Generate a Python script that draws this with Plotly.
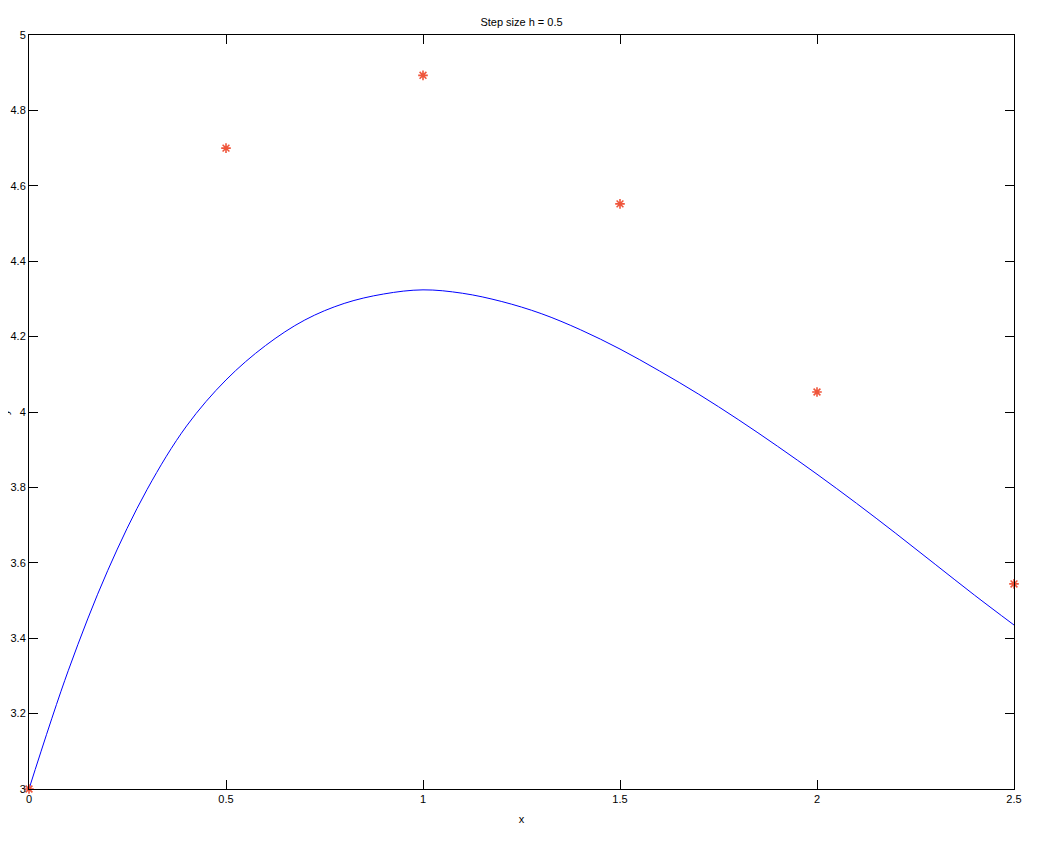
import plotly.graph_objects as go

# Euler approximation points (red asterisks)
euler_x = [0, 0.5, 1.0, 1.5, 2.0, 2.5]
euler_y = [3.0, 4.700, 4.893, 4.552, 4.053, 3.544]

# Exact solution curve (blue)
curve_x = [0.0, 0.1, 0.2, 0.3, 0.4, 0.5, 0.6, 0.7, 0.8, 0.9, 1.0, 1.1, 1.2,
           1.3, 1.4, 1.5, 1.6, 1.7, 1.8, 1.9, 2.0, 2.1, 2.2, 2.3, 2.4, 2.5]
curve_y = [3.000, 3.315, 3.580, 3.795, 3.963, 4.085, 4.176, 4.244, 4.288, 4.313,
           4.324, 4.315, 4.293, 4.261, 4.218, 4.167, 4.109, 4.047, 3.980, 3.909,
           3.835, 3.758, 3.678, 3.596, 3.514, 3.435]

x_ticks = [0, 0.5, 1, 1.5, 2, 2.5]
x_tick_text = ["0", "0.5", "1", "1.5", "2", "2.5"]
y_ticks = [3, 3.2, 3.4, 3.6, 3.8, 4, 4.2, 4.4, 4.6, 4.8, 5]
y_tick_text = ["3", "3.2", "3.4", "3.6", "3.8", "4", "4.2", "4.4", "4.6", "4.8", "5"]

font = dict(family="Liberation Sans, Arial, sans-serif", size=11, color="black")

fig = go.Figure()
fig.add_trace(go.Scatter(x=curve_x, y=curve_y, mode="lines", line_shape="spline",
                         line=dict(color="rgb(0,0,255)", width=1, smoothing=1),
                         showlegend=False))
fig.add_trace(go.Scatter(x=euler_x, y=euler_y, mode="markers", showlegend=False,
                         marker=dict(symbol="asterisk-open", size=8,
                                     line=dict(color="rgb(255,0,0)", width=1.6)),
                         cliponaxis=False))

axis_common = dict(showgrid=False, zeroline=False, showline=True, linecolor="black",
                   linewidth=1, mirror="allticks", ticks="inside", ticklen=9,
                   tickcolor="black", tickwidth=1, tickfont=font, automargin=False)

# page body adds 8px offset; margins compensate so the plot box lands at 29..1014 x 35..789
fig.update_layout(
    width=1050, height=845,
    paper_bgcolor="white", plot_bgcolor="white",
    margin=dict(l=21, r=44, t=27, b=64),
    font=font,
    title=dict(text="Step size h = 0.5", x=513.5 / 1050, xanchor="center",
               y=1 - 14 / 845, yanchor="middle", font=font),
    xaxis=dict(range=[0, 2.5], tickvals=x_ticks, ticktext=x_tick_text,
               title=dict(text="x", font=font, standoff=11), **axis_common),
    yaxis=dict(range=[3, 5], tickvals=y_ticks, ticktext=y_tick_text, **axis_common),
    annotations=[dict(text="y", xref="paper", yref="paper", x=-24 / 985, y=0.5,
                      xanchor="center", yanchor="middle", textangle=-90,
                      showarrow=False, font=font)],
)

fig.write_html("out.html")
